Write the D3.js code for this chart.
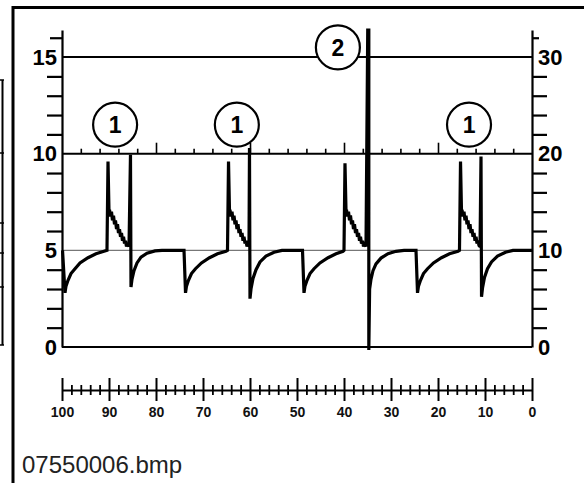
<!DOCTYPE html>
<html><head><meta charset="utf-8">
<script src="https://cdn.jsdelivr.net/npm/d3@7"></script>
<style>html,body{margin:0;padding:0;background:#fff;}svg{display:block}</style>
</head><body>
<svg id="c" width="584" height="483"></svg>
<script>
// ---- data ----
const leftLabels = [0, 5, 10, 15];
const leftMinorTicks = [1, 2, 3, 4, 6, 7, 8, 9, 11, 12, 13, 14, 16];
const rightLabels = [0, 10, 20, 30];
const rightMinorTicks = [2, 4, 6, 8, 12, 14, 16, 18, 22, 24, 26, 28, 32];
const bottomLabels = [100, 90, 80, 70, 60, 50, 40, 30, 20, 10, 0];
const bottomMinorTicks = [98,96,94,92,88,86,84,82,78,76,74,72,68,66,64,62,58,56,54,52,48,46,44,42,38,36,34,32,28,26,24,22,18,16,14,12,8,6,4,2];
const timeMinorTicks = [96,92,88,84,76,72,68,64,56,52,48,44,36,32,28,24,16,12,8,4];
const timeMajorTicks = [80, 60, 40, 20];
const levelLines = [15, 10, 0];
const baselineLevel = [5];
const markerT = [88.7, 62.8, 13.4, 41.3];
const markerV = [11.5, 11.5, 11.5, 15.5];
const markerLabels = ["1", "1", "1", "2"];
const caption = "07550006.bmp";
// trace: [time, value]
const trace = [
  [99.89,5.0],[99.36,2.8],[99.15,3.15],[98.72,3.45],[98.09,3.8],[97.23,4.05],[96.17,4.35],[94.47,4.62],[92.77,4.82],[91.06,4.95],[90.43,5.0],
  [90.21,9.6],[90.00,7.0],
  [89.89,7.1],[89.68,6.75],[89.47,7.0],[89.26,6.55],[89.04,6.8],[88.83,6.35],[88.62,6.55],[88.40,6.1],[88.19,6.35],[87.98,5.9],
  [87.77,6.1],[87.55,5.7],[87.34,5.9],[87.13,5.5],[86.91,5.7],[86.70,5.35],[86.49,5.5],[86.28,5.2],[86.06,5.35],[85.74,5.2],
  [85.43,9.95],[85.32,3.1],
  [85.11,3.5],[84.68,3.95],[84.04,4.35],[83.19,4.65],[81.91,4.85],[80.21,4.97],[78.72,5.0],
  [74.04,5.0],[73.72,2.8],[73.51,3.15],[73.09,3.45],[72.45,3.8],[71.60,4.05],[70.32,4.35],[68.62,4.62],[66.91,4.82],[65.11,4.95],[64.79,5.0],
  [64.57,9.6],[64.36,7.0],
  [64.26,7.1],[64.04,6.75],[63.83,7.0],[63.62,6.55],[63.40,6.8],[63.19,6.35],[62.98,6.55],[62.77,6.1],[62.55,6.35],[62.34,5.9],
  [62.13,6.1],[61.91,5.7],[61.70,5.9],[61.49,5.5],[61.28,5.7],[61.06,5.35],[60.85,5.5],[60.64,5.2],[60.43,5.35],[60.21,5.2],
  [60.11,10.3],[60.00,2.5],
  [59.79,3.0],[59.36,3.55],[58.72,4.0],[57.87,4.4],[56.60,4.7],[54.89,4.9],[53.19,5.0],
  [48.83,5.0],[48.51,2.8],[48.30,3.15],[47.87,3.45],[47.23,3.8],[46.38,4.05],[45.11,4.35],[43.40,4.62],[41.70,4.82],[40.21,4.95],[40.0,5.0],
  [39.79,9.5],[39.57,7.0],
  [39.47,7.1],[39.26,6.75],[39.04,7.0],[38.83,6.55],[38.62,6.8],[38.40,6.35],[38.19,6.55],[37.98,6.1],[37.77,6.35],[37.55,5.9],
  [37.34,6.1],[37.13,5.7],[36.91,5.9],[36.70,5.5],[36.49,5.7],[36.28,5.35],[36.06,5.5],[35.85,5.2],[35.64,5.35],[35.32,5.2],
  [34.95,16.4],[34.72,16.4],[34.72,-0.15],[34.55,3.0],
  [34.26,3.5],[33.83,3.95],[33.19,4.3],[32.13,4.6],[30.64,4.83],[28.94,4.95],[27.23,5.0],
  [24.68,5.0],[24.36,2.8],[24.15,3.15],[23.72,3.45],[23.09,3.8],[22.23,4.05],[20.96,4.35],[19.26,4.62],[17.55,4.82],[15.74,4.95],[15.43,5.0],
  [15.21,9.6],[15.00,7.0],
  [14.89,7.1],[14.68,6.75],[14.47,7.0],[14.26,6.55],[14.04,6.8],[13.83,6.35],[13.62,6.55],[13.40,6.1],[13.19,6.35],[12.98,5.9],
  [12.77,6.1],[12.55,5.7],[12.34,5.9],[12.13,5.5],[11.91,5.7],[11.70,5.35],[11.49,5.5],[11.28,5.25],[11.06,5.2],
  [10.85,9.85],[10.74,2.6],
  [10.53,3.05],[10.11,3.6],[9.47,4.05],[8.62,4.4],[7.34,4.7],[5.64,4.9],[4.04,5.0],[0,5.0]
];

// ---- drawing ----
const svg = d3.select("#c");
const x = d3.scaleLinear().domain([100, 0]).range([62, 532]);
const yL = d3.scaleLinear().domain([0, 16.4]).range([347, 30]);
const yR = d3.scaleLinear().domain([0, 32.8]).range([347, 30]);
const labelFont = "'Liberation Sans', Arial, Helvetica, sans-serif";

// outer frame (top + left) and neighbouring frame stub
svg.append("path").attr("d", "M13,483V7.5H584").attr("fill", "none").attr("stroke", "#000").attr("stroke-width", 3);
const stubY = [80, 153, 223, 253, 287, 345];
svg.append("line").attr("x1", 2.5).attr("x2", 2.5).attr("y1", stubY[0]).attr("y2", stubY[stubY.length - 1]).attr("stroke", "#000").attr("stroke-width", 2);
svg.selectAll(".stub").data(stubY).enter().append("line").attr("x1", 0).attr("x2", 4).attr("y1", d => d).attr("y2", d => d).attr("stroke", "#000").attr("stroke-width", 1.5);

// level lines
svg.selectAll(".lvl").data(levelLines).enter().append("line")
  .attr("x1", x(100)).attr("x2", x(0)).attr("y1", d => yL(d)).attr("y2", d => yL(d))
  .attr("stroke", "#000").attr("stroke-width", 2);
svg.selectAll(".base").data(baselineLevel).enter().append("line")
  .attr("x1", x(100)).attr("x2", x(0)).attr("y1", d => yL(d)).attr("y2", d => yL(d))
  .attr("stroke", "#777").attr("stroke-width", 1.2);

// time ticks on the 10 line
function styleTicks(g, w) {
  g.select(".domain").remove();
  g.selectAll(".tick line").attr("stroke", "#000").attr("stroke-width", w);
}
svg.append("g").attr("transform", `translate(0,${yL(10)})`)
  .call(d3.axisTop(x).tickValues(timeMinorTicks).tickSize(5).tickFormat(""))
  .call(g => styleTicks(g, 1.6));
svg.append("g").attr("transform", `translate(0,${yL(10)})`)
  .call(d3.axisTop(x).tickValues(timeMajorTicks).tickSize(11).tickFormat(""))
  .call(g => styleTicks(g, 1.6));

// left axis
const gL = svg.append("g").attr("transform", `translate(${x(100)},0)`)
  .call(d3.axisLeft(yL).tickValues(leftMinorTicks).tickSize(15).tickSizeOuter(0).tickFormat(""));
gL.select(".domain").attr("stroke", "#000").attr("stroke-width", 2.2);
gL.selectAll(".tick line").attr("stroke", "#000").attr("stroke-width", 2.2)
  .attr("x2", d => d === 16 ? -12 : -15);
svg.append("g").attr("transform", `translate(${x(100)},0)`)
  .call(d3.axisLeft(yL).tickValues(leftLabels).tickSize(0).tickPadding(5))
  .call(g => g.select(".domain").remove())
  .selectAll("text").attr("font-family", labelFont).attr("font-weight", "bold").attr("font-size", 22).attr("fill", "#000");

// right axis
const gR = svg.append("g").attr("transform", `translate(${x(0)},0)`)
  .call(d3.axisRight(yR).tickValues(rightMinorTicks).tickSize(15).tickSizeOuter(0).tickFormat(""));
gR.select(".domain").attr("stroke", "#000").attr("stroke-width", 2.2);
gR.selectAll(".tick line").attr("stroke", "#000").attr("stroke-width", 2.2)
  .attr("x2", d => d === 32 ? 7 : 15);
svg.append("g").attr("transform", `translate(${x(0)},0)`)
  .call(d3.axisRight(yR).tickValues(rightLabels).tickSize(0).tickPadding(6))
  .call(g => g.select(".domain").remove())
  .selectAll("text").attr("font-family", labelFont).attr("font-weight", "bold").attr("font-size", 22).attr("fill", "#000");

// bottom time scale
const bY = 390;
const gB = svg.append("g").attr("transform", `translate(0,${bY})`)
  .call(d3.axisBottom(x).tickValues(bottomMinorTicks).tickSize(5).tickSizeOuter(0).tickFormat(""));
gB.select(".domain").attr("stroke", "#000").attr("stroke-width", 2);
gB.selectAll(".tick line").attr("y1", -5).attr("stroke", "#000").attr("stroke-width", 1.8);
const gB2 = svg.append("g").attr("transform", `translate(0,${bY})`)
  .call(d3.axisBottom(x).tickValues(bottomLabels).tickSize(11).tickPadding(6));
gB2.select(".domain").remove();
gB2.selectAll(".tick line").attr("y1", -12).attr("stroke", "#000").attr("stroke-width", 2);
gB2.selectAll("text").attr("font-family", labelFont).attr("font-weight", "bold").attr("font-size", 14).attr("fill", "#111");

// trace
const line = d3.line().x(d => x(d[0])).y(d => yL(d[1]));
svg.append("path").datum(trace).attr("d", line).attr("fill", "none")
  .attr("stroke", "#000").attr("stroke-width", 3.2).attr("stroke-linejoin", "miter").attr("stroke-miterlimit", 2);

// markers
const markers = markerT.map((t, i) => ({ t, v: markerV[i], label: markerLabels[i] }));
const gm = svg.selectAll(".marker").data(markers).enter().append("g")
  .attr("transform", d => `translate(${x(d.t)},${yL(d.v)})`);
gm.append("circle").attr("r", 22).attr("fill", "#fff").attr("stroke", "#000").attr("stroke-width", 2.2);
gm.append("text").text(d => d.label).attr("text-anchor", "middle").attr("dy", "0.36em")
  .attr("font-family", labelFont).attr("font-weight", "bold").attr("font-size", 23).attr("fill", "#000");

// caption
svg.append("text").attr("x", 22).attr("y", 473).text(caption)
  .attr("font-family", labelFont).attr("font-size", 24).attr("fill", "#222");
</script>
</body></html>
